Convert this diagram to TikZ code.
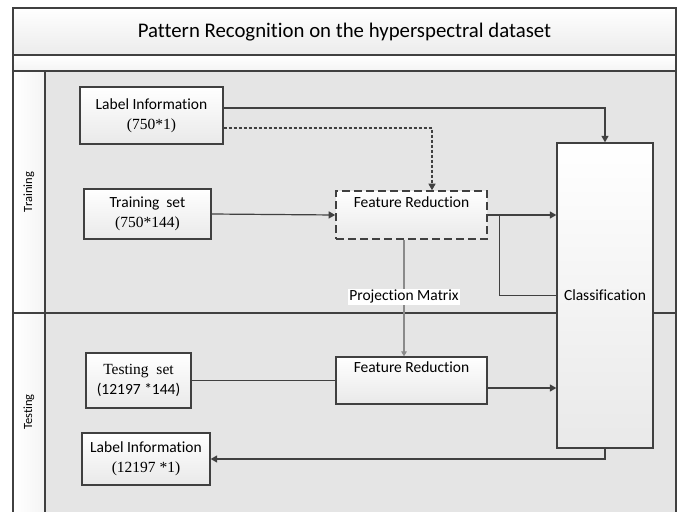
\documentclass[tikz,border=0pt]{standalone}
\usepackage{fontspec}
\setmainfont{Carlito}[Ligatures={NoCommon}]
\newfontfamily\numfont{Liberation Serif}
\usetikzlibrary{arrows.meta}

\definecolor{edge}{HTML}{404040}
\definecolor{lanebg}{HTML}{E5E5E5}
\definecolor{boxbot}{HTML}{E9E9E9}
\definecolor{bandbot}{HTML}{EBEBEB}
\definecolor{bandmid}{HTML}{F4F4F4}
\definecolor{projgray}{HTML}{8A8A8A}

\begin{document}
\begin{tikzpicture}[x=1pt,y=-1pt,
  txt/.style={font=\fontsize{15.5}{20}\selectfont},
  box/.style={txt, draw=edge, line width=1.3pt, top color=white, bottom color=boxbot,
              align=center, inner sep=0pt},
  frame/.style={draw=edge, line width=1.5pt},
  link/.style={draw=edge, line width=1.2pt},
  flow/.style={link, -{Triangle[width=7pt,length=6.5pt]}},
  dflow/.style={flow, dash pattern=on 3pt off 2pt},
  projflow/.style={draw=projgray, line width=1.2pt, -{Triangle[width=5.5pt,length=5pt]}},
  lanelabel/.style={rotate=90, font=\fontsize{12.5}{14}\selectfont}
]
\useasboundingbox (0,0) rectangle (681,512);

% pool background: title band, spacer band, lane headers and lanes
\shade[top color=white, bottom color=bandbot] (13,8) rectangle (676,55);
\shade[top color=white, bottom color=bandmid] (13,55) rectangle (676,71);
\shade[left color=white, right color=bandmid] (13,71) rectangle (45,512);
\fill[lanebg] (45,71) rectangle (676,512);

\draw[frame] (13,512) -- (13,8) -- (676,8) -- (676,512);
\draw[frame] (13,55) -- (676,55);
\draw[frame] (13,71) -- (676,71);
\draw[frame] (45,71) -- (45,512);
\draw[frame] (13,313) -- (676,313);

\node[font=\fontsize{20.8}{24}\selectfont] (title) at (344.5,32) {Pattern Recognition on the hyperspectral dataset};
\node[lanelabel] (lanetrain) at (29,192) {Training};
\node[lanelabel] (lanetest) at (29,412) {Testing};

% process boxes
\node[box, minimum width=143, minimum height=57] (lab1) at (151.5,115.5)
  {Label Information\\{\numfont (750*1)}};
\node[box, minimum width=127, minimum height=50] (train) at (147.5,214)
  {Training\ \ set\\{\numfont (750*144)}};
\node[box, dash pattern=on 8pt off 4pt, line width=1.6pt, minimum width=151, minimum height=48] (fr1) at (411.5,215)
  {Feature Reduction\\\strut};
\node[box, minimum width=96, minimum height=305] (cls) at (605,295.5) {Classification};
\node[box, minimum width=105, minimum height=55] (test) at (138.5,380.5)
  {\numfont Testing\ \ set\\(12197 *144)};
\node[box, minimum width=151, minimum height=47] (fr2) at (411.5,380.5)
  {Feature Reduction\\\strut};
\node[box, minimum width=128, minimum height=52] (lab2) at (146,459)
  {Label Information\\{\numfont (12197 *1)}};

% connectors
\draw[flow] ([yshift=7.5pt]lab1.east) -| (cls.north);
\draw[dflow] ([yshift=-12.5pt]lab1.east) -| ([xshift=20.5pt]fr1.north);
\draw[flow] (train.east) -- (fr1.west);
\draw[flow] (fr1.east) -- (fr1.east -| cls.west);
\draw[draw=edge, line width=1pt] ([xshift=12pt]fr1.east) |- (cls.west);
\draw[projflow] ([xshift=-7.5pt]fr1.south) -- ([xshift=-7.5pt]fr2.north)
  node[pos=0.49, txt, fill=white, inner sep=1.5pt] (projlbl) {Projection Matrix};
\draw[link] (test.east) -- (fr2.west);
\coordinate (fr2out) at ([yshift=-7.5pt]fr2.east);
\draw[flow] (fr2out) -- (fr2out -| cls.west);
\draw[flow] (cls.south) |- (lab2.east);
\end{tikzpicture}
\end{document}
